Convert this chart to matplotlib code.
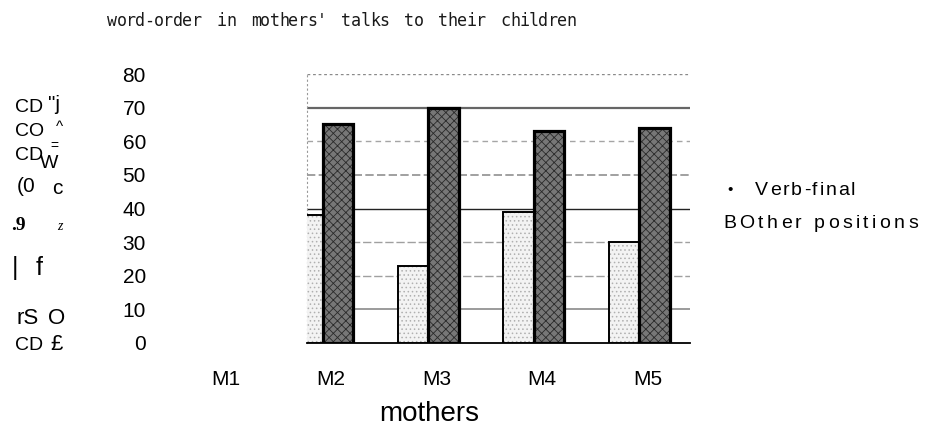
#!/usr/bin/env python3
"""Word order in mothers' talks to their children - grouped bar chart."""

import numpy as np
import matplotlib
matplotlib.use("Agg")
import matplotlib.pyplot as plt
from matplotlib.font_manager import FontProperties
from matplotlib.textpath import text_to_path
from matplotlib.transforms import blended_transform_factory


W_PX, H_PX = 929, 432

TITLE = "word-order in mothers' talks to their children"
MOTHERS = ["M1", "M2", "M3", "M4", "M5"]
# M1 bars lie outside the visible plot area in the source
VERB_FINAL = [np.nan, 38, 23, 39, 30]
OTHER_POSITIONS = [np.nan, 65, 70, 63, 64]
Y_TICKS = [0, 10, 20, 30, 40, 50, 60, 70, 80]

# scanned-axis-title residue on the left of the source: text, x, y, size, family, style
LEFT_GLYPHS = [
    ("CD", 15, 108, 14, "Liberation Sans", "normal"),
    ('"j', 48, 105, 15, "Liberation Sans", "normal"),
    ("CO", 15, 132, 14, "Liberation Sans", "normal"),
    ("^", 56, 127, 11, "Liberation Sans", "normal"),
    ("CD", 15, 155, 14, "Liberation Sans", "normal"),
    ("=", 50, 146, 10, "Liberation Sans", "normal"),
    ("W", 40, 164, 14, "Liberation Sans", "normal"),
    ("(0", 17, 186, 15, "Liberation Sans", "normal"),
    ("c", 52, 189, 15, "Liberation Sans", "normal"),
    (".9", 11, 225, 14, "Liberation Serif", "bold"),
    ("z", 57, 227, 10, "Liberation Serif", "italic"),
    ("|", 12, 268, 18, "Liberation Sans", "normal"),
    ("f", 36, 268, 18, "Liberation Sans", "normal"),
    ("rS", 17, 318, 16, "Liberation Sans", "normal"),
    ("O", 48, 318, 16, "Liberation Sans", "normal"),
    ("CD", 15, 345, 14, "Liberation Sans", "normal"),
    ("£", 50, 345, 16, "Liberation Sans", "normal"),
]

plt.rcParams["font.family"] = ["Liberation Sans", "DejaVu Sans"]
plt.rcParams["hatch.linewidth"] = 0.6


def fx(x):
    return x / W_PX


def fy(y):
    return 1 - y / H_PX


def tracked_text(fig, x, y, s, size, track, **kw):
    """Left-aligned text with extra spacing (px) between characters."""
    prop = FontProperties(family="Liberation Sans", size=size)
    for ch in s:
        fig.text(fx(x), fy(y), ch, fontsize=size, ha="left", va="center", **kw)
        w, _, _ = text_to_path.get_text_width_height_descent(ch, prop, ismath=False)
        x += w * 100 / 72 + track


fig = plt.figure(figsize=(W_PX / 100, H_PX / 100), dpi=100)
ax = fig.add_axes([fx(307), fy(343), (690 - 307) / W_PX, (343 - 74) / H_PX])

x = np.arange(len(MOTHERS))
bw = 0.29

# light bars (Verb-final)
ax.bar(x - bw / 2, VERB_FINAL, bw, color="#f3f3f3", hatch="....",
       edgecolor="#b0b0b0", linewidth=0, zorder=3)
ax.bar(x - bw / 2, VERB_FINAL, bw, fill=False, edgecolor="black",
       linewidth=1.4, zorder=4)
# dark bars (Other positions)
ax.bar(x + bw / 2, OTHER_POSITIONS, bw, color="#777777", hatch="xxxx",
       edgecolor="#2a2a2a", linewidth=0, zorder=3)
ax.bar(x + bw / 2, OTHER_POSITIONS, bw, fill=False, edgecolor="black",
       linewidth=2.3, zorder=4)

ax.set_xlim(0.853, 4.478)
ax.set_ylim(0, 80)

# gridlines as they appear in the scan
grid_styles = {
    10: ("#8a8a8a", "-", 1.2),
    20: ("#a0a0a0", (0, (6, 2)), 1.0),
    30: ("#a0a0a0", (0, (6, 2)), 1.0),
    40: ("#222222", "-", 1.0),
    50: ("#909090", (0, (5, 2)), 1.2),
    60: ("#a5a5a5", (0, (4, 3)), 1.0),
    70: ("#666666", "-", 1.6),
    80: ("#8a8a8a", (0, (2, 2)), 1.0),
}
for val, (c, ls, lw) in grid_styles.items():
    ax.axhline(val, color=c, linestyle=ls, linewidth=lw, zorder=1)

for side in ["top", "right"]:
    ax.spines[side].set_visible(False)
ax.spines["bottom"].set_linewidth(1.3)
ax.spines["left"].set_color("#999999")
ax.spines["left"].set_linestyle((0, (1, 3)))

ax.set_yticks(Y_TICKS)
ax.set_yticklabels([str(v) for v in Y_TICKS], fontsize=15)
ax.tick_params(axis="y", length=0, pad=116)
ax.set_xticks([])

# category labels (M1 sits left of the plot area, so place them as text)
trans = blended_transform_factory(ax.transData, ax.transAxes)
for i, lab in enumerate(MOTHERS):
    ax.text(i + 0.08, -0.1, lab, transform=trans, ha="center", va="top",
            fontsize=15, clip_on=False)

fig.text(fx(429), fy(414), "mothers", ha="center", va="center", fontsize=20)

# title: evenly spaced characters
tx = 112
for ch in TITLE:
    if ch != " ":
        fig.text(fx(tx), fy(21), ch, ha="center", va="center", fontsize=12,
                 family="DejaVu Sans Mono", color="#1a1a1a")
    tx += 15.5 if ch == " " else 9.4

# legend text
fig.text(fx(730), fy(190), "•", ha="center", va="center", fontsize=11)
tracked_text(fig, 755, 190, "Verb-final", 14, 1.9)
tracked_text(fig, 723, 223, "BOther positions", 14, 3.4)

for s, gx, gy, size, fam, style in LEFT_GLYPHS:
    weight = "bold" if style == "bold" else "normal"
    fstyle = "italic" if style == "italic" else "normal"
    fig.text(fx(gx), fy(gy), s, ha="left", va="center", fontsize=size,
             family=[fam, "DejaVu Sans"], fontweight=weight, fontstyle=fstyle)

fig.savefig("out.png", dpi=100)
